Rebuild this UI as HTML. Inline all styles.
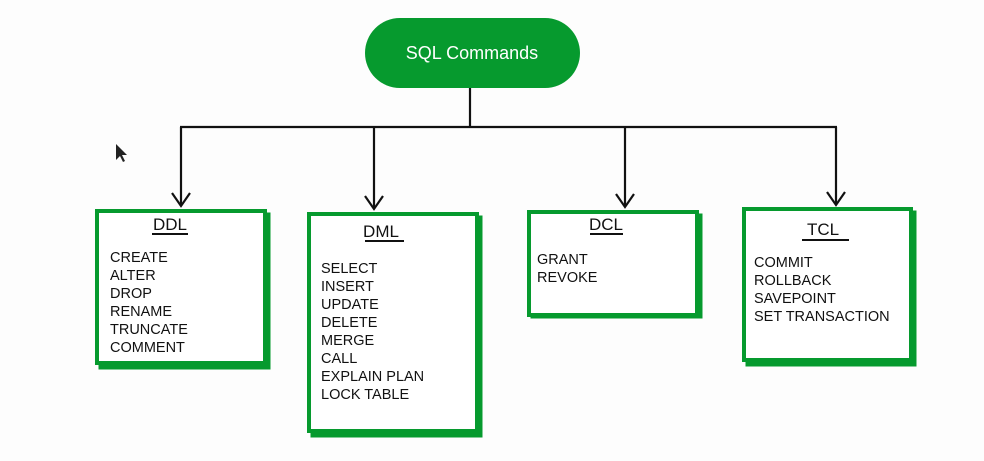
<!DOCTYPE html>
<html><head><style>
body{margin:0;background:#fdfdfd;}
svg{display:block;}
text{font-family:"Liberation Sans",sans-serif;fill:#111;}
</style></head><body>
<svg width="984" height="461" viewBox="0 0 984 461" xmlns="http://www.w3.org/2000/svg">
<rect width="984" height="461" fill="#fdfdfd"/>
<rect x="365" y="18" width="215" height="70" rx="35" fill="#069a2e"/>
<text x="472" y="59" font-size="18" text-anchor="middle" style="fill:#fff">SQL Commands</text>
<g stroke="#111" stroke-width="2.2" fill="none">
<line x1="470" y1="88" x2="470" y2="127"/>
<line x1="180" y1="127" x2="837" y2="127"/>
<line x1="181" y1="127" x2="181" y2="206"/>
<line x1="374" y1="127" x2="374" y2="209"/>
<line x1="625" y1="127" x2="625" y2="207"/>
<line x1="836" y1="127" x2="836" y2="205"/>
<polyline points="172,193 181,206 190,193"/>
<polyline points="365,196 374,209 383,196"/>
<polyline points="616,194 625,207 634,194"/>
<polyline points="827,192 836,205 845,192"/>
</g>
<g fill="none" stroke="#069a2e">
<rect x="101" y="215" width="167" height="152" stroke-width="5"/>
<rect x="97" y="211" width="168" height="152" stroke-width="4" fill="#fff"/>
<rect x="313" y="218" width="167" height="217" stroke-width="5"/>
<rect x="309" y="214" width="168" height="217" stroke-width="4" fill="#fff"/>
<rect x="533" y="216" width="167" height="100" stroke-width="5"/>
<rect x="529" y="212" width="168" height="103" stroke-width="4" fill="#fff"/>
<rect x="748" y="213" width="166" height="151" stroke-width="5"/>
<rect x="744" y="209" width="167" height="151" stroke-width="4" fill="#fff"/>
</g>
<g font-size="14.5">
<text x="170" y="230" font-size="17" text-anchor="middle">DDL</text>
<line x1="152" y1="234" x2="188" y2="234" stroke="#111" stroke-width="2"/>
<text x="110" y="262">CREATE</text><text x="110" y="280">ALTER</text><text x="110" y="298">DROP</text>
<text x="110" y="316">RENAME</text><text x="110" y="334">TRUNCATE</text><text x="110" y="352">COMMENT</text>
<text x="381" y="237" font-size="17" text-anchor="middle">DML</text>
<line x1="365" y1="241" x2="404" y2="241" stroke="#111" stroke-width="2"/>
<text x="321" y="273">SELECT</text><text x="321" y="291">INSERT</text><text x="321" y="309">UPDATE</text>
<text x="321" y="327">DELETE</text><text x="321" y="345">MERGE</text><text x="321" y="363">CALL</text>
<text x="321" y="381">EXPLAIN PLAN</text><text x="321" y="399">LOCK TABLE</text>
<text x="606" y="230" font-size="17" text-anchor="middle">DCL</text>
<line x1="590" y1="234" x2="623" y2="234" stroke="#111" stroke-width="2"/>
<text x="537" y="264">GRANT</text><text x="537" y="282">REVOKE</text>
<text x="823" y="235" font-size="17" text-anchor="middle">TCL</text>
<line x1="802" y1="240" x2="849" y2="240" stroke="#111" stroke-width="2"/>
<text x="754" y="267">COMMIT</text><text x="754" y="285">ROLLBACK</text>
<text x="754" y="303">SAVEPOINT</text><text x="754" y="321">SET TRANSACTION</text>
</g>
<polygon points="116,144 116,160 120,156 123,162 125,161 122,155 127,155" fill="#222"/>
</svg>
</body></html>
